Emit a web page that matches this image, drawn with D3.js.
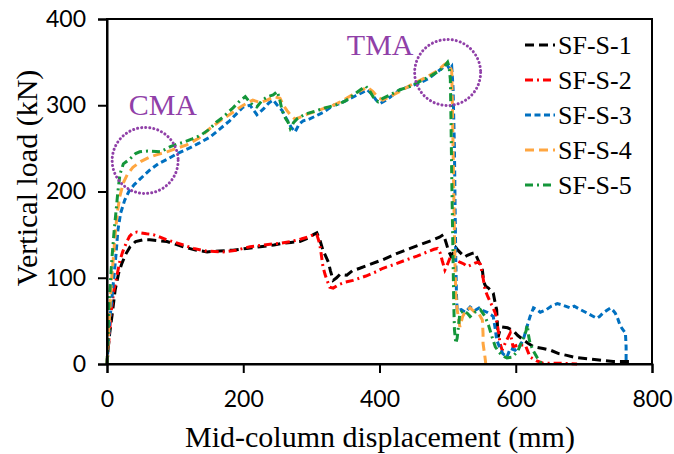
<!DOCTYPE html>
<html>
<head>
<meta charset="utf-8">
<script src="https://cdn.jsdelivr.net/npm/d3@7"></script>
<style>
  body { margin: 0; background: #fff; }
  svg { display: block; }
</style>
</head>
<body>
<div id="chart"></div>
<script>
// ---------------------------------------
// 1. Data (displacement mm, load kN)
// ---------------------------------------
const seriesNames = ["SF-S-1", "SF-S-2", "SF-S-3", "SF-S-4", "SF-S-5"];

const sfs1 = [[0,0],[2,20],[4,36],[8,60],[12,86],[17,105],[22,117],[28,128],[34,136],[42,142],[53,144],[63,144],[75,143],[88,142],[100,139],[112,136],[130,132],[147,130],[165,131],[185,132],[205,134],[225,136],[245,138],[258,140],[270,141],[283,142],[295,146],[303,150],[308,152],[312,145],[317,132],[321,125],[325,118],[328,108],[332,97],[337,100],[342,104],[352,103],[360,108],[371,111],[388,116],[405,121],[425,128],[445,134],[462,139],[479,144],[488,147],[494,150],[498,140],[501,132],[505,125],[508,129],[512,135],[515,132],[520,128],[525,124],[529,126],[535,128],[540,129],[545,120],[551,109],[553,95],[556,90],[560,88],[567,82],[570,70],[572,63],[574,31],[577,40],[580,43],[588,42],[596,39],[603,33],[611,28],[618,24],[626,20],[640,18],[651,16],[663,12],[675,10],[685,8],[695,7],[707,6],[719,5],[730,4],[743,3],[755,3],[768,3],[772,0]];

const sfs2 = [[0,0],[3,30],[6,60],[10,85],[14,100],[19,120],[23,130],[28,140],[33,148],[38,152],[44,153],[50,152],[58,151],[68,150],[78,147],[88,144],[100,141],[112,138],[127,134],[145,131],[170,130],[190,132],[210,136],[230,138],[254,140],[270,142],[285,145],[294,147],[300,149],[308,150],[312,140],[314,130],[317,113],[320,104],[323,97],[327,89],[332,88],[340,92],[350,95],[361,97],[380,102],[395,107],[405,111],[420,115],[440,121],[455,125],[470,130],[480,133],[485,134],[489,129],[492,120],[496,109],[500,116],[504,124],[510,121],[518,118],[524,116],[529,113],[535,115],[540,117],[545,118],[548,116],[552,100],[555,86],[559,78],[565,68],[570,59],[573,45],[577,24],[580,16],[585,25],[592,36],[594,28],[596,20],[603,22],[614,22],[618,14],[621,8],[630,4],[640,1],[660,1],[690,0]];

const sfs3 = [[0,0],[2,25],[4,50],[7,74],[10,100],[13,125],[16,155],[20,175],[26,190],[32,200],[40,208],[48,214],[56,220],[63,225],[75,232],[90,238],[103,244],[120,250],[135,256],[151,263],[165,272],[180,282],[190,290],[200,298],[210,300],[220,289],[230,296],[238,303],[244,306],[250,300],[257,294],[263,285],[270,275],[276,269],[282,278],[288,282],[294,283],[305,287],[318,292],[332,300],[342,302],[352,306],[365,311],[375,315],[382,318],[390,312],[395,306],[401,302],[410,306],[420,312],[430,318],[445,322],[460,326],[472,331],[482,337],[492,343],[499,347],[503,342],[506,345],[508,320],[510,250],[511,180],[512,120],[513,80],[514,62],[520,63],[526,60],[533,66],[540,62],[546,65],[552,62],[558,60],[564,57],[567,55],[570,40],[572,28],[576,20],[581,12],[587,8],[592,18],[599,16],[605,20],[611,28],[616,42],[621,55],[626,65],[631,63],[636,60],[645,63],[652,67],[661,70],[670,68],[680,65],[686,67],[695,63],[705,59],[712,56],[719,53],[723,55],[728,59],[735,63],[739,65],[743,62],[746,59],[750,52],[753,45],[757,40],[761,36],[762,20],[762,0]];

const sfs4 = [[0,0],[2,30],[4,60],[6,90],[9,120],[12,150],[15,175],[19,195],[24,210],[30,220],[38,228],[50,235],[63,240],[75,243],[88,246],[102,250],[117,254],[135,262],[151,273],[168,283],[185,292],[200,300],[214,306],[225,303],[235,306],[245,310],[254,308],[259,300],[264,294],[270,288],[276,284],[283,286],[295,290],[310,294],[332,300],[345,305],[360,312],[375,318],[382,321],[390,316],[398,309],[405,306],[415,310],[430,316],[445,323],[455,327],[470,333],[485,340],[495,347],[499,349],[503,345],[506,340],[507,300],[508,250],[509,200],[510,150],[511,110],[512,80],[514,63],[518,43],[522,55],[527,62],[533,65],[540,60],[546,58],[551,51],[552,35],[552,24],[555,7],[556,0]];

const sfs5 = [[0,0],[1,20],[2,45],[3,70],[5,95],[7,120],[10,150],[13,175],[16,200],[19,220],[24,232],[34,238],[42,244],[48,246],[60,247],[78,246],[86,249],[93,252],[103,255],[112,257],[125,261],[137,265],[150,272],[160,280],[170,286],[185,297],[195,305],[203,310],[208,305],[214,300],[220,298],[228,306],[236,310],[244,312],[250,316],[254,305],[257,294],[262,285],[266,280],[269,273],[274,280],[280,285],[292,290],[305,293],[320,297],[335,300],[350,305],[362,312],[372,318],[380,322],[386,316],[392,308],[398,304],[405,308],[418,313],[430,318],[445,322],[460,328],[475,334],[488,340],[495,345],[500,350],[502,345],[504,330],[505,280],[506,220],[507,170],[508,120],[509,70],[510,40],[512,24],[514,30],[518,59],[524,62],[530,58],[533,55],[540,60],[548,63],[555,55],[560,45],[565,32],[570,20],[575,14],[580,10],[587,7],[595,8],[603,15],[610,28],[615,38],[617,45],[619,32],[621,24],[626,15],[631,8],[635,4],[638,0]];

const xTicks = [0, 200, 400, 600, 800];
const yTicks = [0, 100, 200, 300, 400];

// annotation labels and the circled points (data coords)
const annotations = [
  { label: "CMA", cx: 56, cy: 236, tx: 82, ty: 289 },
  { label: "TMA", cx: 500, cy: 338, tx: 401, ty: 358 }
];

// ---------------------------------------
// 2. Styles per series
// ---------------------------------------
const colors = ["#000000", "#ff0000", "#0070c0", "#ffa640", "#14963a"];
const dashes = ["9 5", "8 4 2 4", "6 3.5", "9 5", "8 4 2 4"];
const allSeries = [sfs1, sfs2, sfs3, sfs4, sfs5];

// ---------------------------------------
// 3. SVG + scales
// ---------------------------------------
const width = 674, height = 454;
const margin = { top: 19, right: 22, bottom: 90, left: 107 };
const iw = width - margin.left - margin.right;
const ih = height - margin.top - margin.bottom;

const svg = d3.select("#chart").append("svg")
  .attr("width", width)
  .attr("height", height);

const g = svg.append("g").attr("transform", `translate(${margin.left},${margin.top})`);

const x = d3.scaleLinear().domain([0, 800]).range([0, iw]);
const y = d3.scaleLinear().domain([0, 400]).range([ih, 0]);

const serif = "'Liberation Serif', 'Times New Roman', serif";
const sans = "'Lato', 'Liberation Sans', sans-serif";

// ---------------------------------------
// 4. Curves
// ---------------------------------------
const line = d3.line().x(d => x(d[0])).y(d => y(d[1]));

g.selectAll(".curve")
  .data(allSeries)
  .enter()
  .append("path")
  .attr("class", "curve")
  .attr("d", line)
  .attr("fill", "none")
  .attr("stroke", (d, i) => colors[i])
  .attr("stroke-width", 3)
  .attr("stroke-dasharray", (d, i) => dashes[i]);

// ---------------------------------------
// 5. Frame + axes
// ---------------------------------------
g.append("rect")
  .attr("width", iw).attr("height", ih)
  .attr("fill", "none").attr("stroke", "#000").attr("stroke-width", 2);

const xAxis = g.append("g")
  .attr("transform", `translate(0,${ih})`)
  .call(d3.axisBottom(x).tickValues(xTicks).tickSize(9).tickPadding(18));

const yAxis = g.append("g")
  .call(d3.axisLeft(y).tickValues(yTicks).tickSize(9).tickPadding(12));

[xAxis, yAxis].forEach(a => {
  a.select(".domain").attr("stroke-width", 2);
  a.selectAll(".tick line").attr("stroke-width", 2);
  a.selectAll("text")
    .style("font-family", sans)
    .style("font-size", "23px")
    .attr("fill", "#000");
});

// axis titles
svg.append("text")
  .attr("x", 380)
  .attr("y", 447)
  .attr("text-anchor", "middle")
  .style("font-family", serif)
  .style("font-size", "30px")
  .text("Mid-column displacement (mm)");

svg.append("text")
  .attr("transform", "translate(37,178) rotate(-90)")
  .attr("text-anchor", "middle")
  .style("font-family", serif)
  .style("font-size", "30px")
  .text("Vertical load (kN)");

// ---------------------------------------
// 6. Annotations (dotted circles)
// ---------------------------------------
const purple = "#9040a8";
annotations.forEach(a => {
  g.append("circle")
    .attr("cx", x(a.cx)).attr("cy", y(a.cy)).attr("r", 33)
    .attr("fill", "none")
    .attr("stroke", purple)
    .attr("stroke-width", 3)
    .attr("stroke-linecap", "round")
    .attr("stroke-dasharray", "0.1 4");
  g.append("text")
    .attr("x", x(a.tx)).attr("y", y(a.ty))
    .attr("text-anchor", "middle")
    .attr("fill", purple)
    .style("font-family", serif)
    .style("font-size", "30px")
    .text(a.label);
});

// ---------------------------------------
// 7. Legend
// ---------------------------------------
const legend = svg.append("g").attr("transform", "translate(525,45)");
const item = legend.selectAll(".item")
  .data(seriesNames)
  .enter()
  .append("g")
  .attr("transform", (d, i) => `translate(0,${i * 35})`);

item.append("line")
  .attr("x1", 0).attr("x2", 30)
  .attr("stroke", (d, i) => colors[i])
  .attr("stroke-width", 3)
  .attr("stroke-dasharray", (d, i) => dashes[i]);

item.append("text")
  .attr("x", 33).attr("y", 9)
  .style("font-family", serif)
  .style("font-size", "26px")
  .text(d => d);
</script>
</body>
</html>
